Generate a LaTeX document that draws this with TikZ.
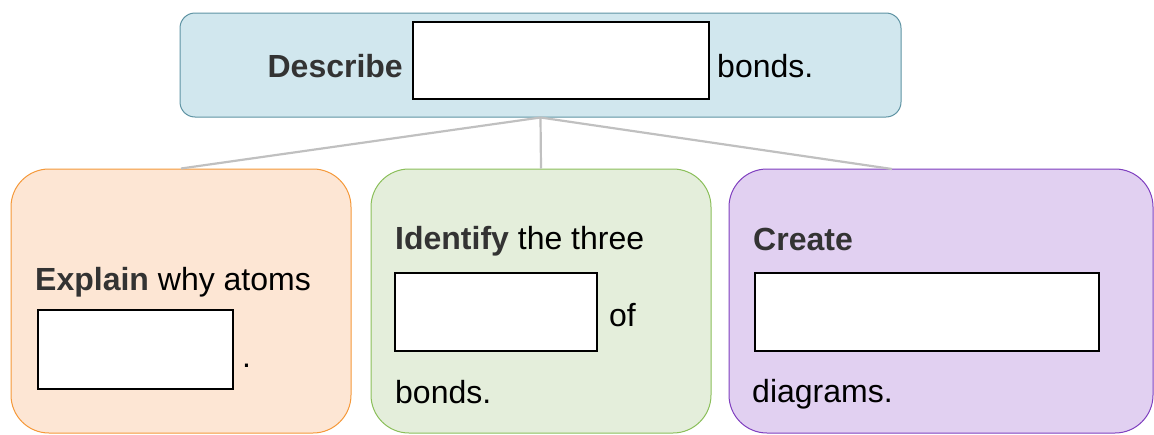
\documentclass[tikz,border=0pt]{standalone}
\usepackage{fontspec}
\setmainfont{Liberation Sans}
\definecolor{topfill}{HTML}{D1E7EE}
\definecolor{topline}{HTML}{5E93A3}
\definecolor{orfill}{HTML}{FDE6D4}
\definecolor{orline}{HTML}{F5993A}
\definecolor{grfill}{HTML}{E4EEDB}
\definecolor{grline}{HTML}{8BBF5A}
\definecolor{pufill}{HTML}{E1D0F1}
\definecolor{puline}{HTML}{7F3FBF}
\definecolor{linkgray}{HTML}{C0C0C0}
\definecolor{darktext}{HTML}{333333}
\tikzset{
  card/.style={rectangle, rounded corners=38pt, line width=1pt, inner sep=0pt},
  topcard/.style={rectangle, rounded corners=15pt, line width=1pt, inner sep=0pt, fill=topfill, draw=topline},
  blank/.style={rectangle, draw=black, fill=white, line width=2.2pt, inner sep=0pt},
  txt/.style={inner sep=0pt, anchor=base west, font=\fontsize{32}{38}\selectfont},
  link/.style={draw=linkgray, line width=2.2pt},
}
\newcommand{\bw}[1]{{\bfseries\color{darktext}#1}}
\begin{document}
\begin{tikzpicture}[x=1pt,y=-1pt]
\useasboundingbox (0,0) rectangle (1154,434);
% main cards
\node[topcard, minimum width=721pt, minimum height=104pt] (top) at (540.5,65) {};
\node[card, fill=orfill, draw=orline, minimum width=340pt, minimum height=264pt] (expl) at (181,301) {};
\node[card, fill=grfill, draw=grline, minimum width=340pt, minimum height=264pt] (ident) at (541,301) {};
\node[card, fill=pufill, draw=puline, minimum width=424pt, minimum height=264pt] (create) at (941,301) {};
% connectors
\coordinate (createin) at (892,169);
\draw[link] (top.south) -- (expl.north);
\draw[link] (top.south) -- (ident.north);
\draw[link] (top.south) -- (createin);
% blanks
\node[blank, minimum width=296pt, minimum height=77pt] (b0) at (561,60.5) {};
\node[blank, minimum width=195pt, minimum height=79pt] (b1) at (135.5,349.5) {};
\node[blank, minimum width=202pt, minimum height=78pt] (b2) at (496,312) {};
\node[blank, minimum width=344pt, minimum height=78pt] (b3) at (927,312) {};
% texts
\node[txt, anchor=base east] (t0a) at (403,77) {\bw{Describe}};
\node[txt] (t0b) at (717,77) {bonds.};
\node[txt] (t1a) at (35,290) {\bw{Explain} why atoms};
\node[txt] (t1b) at (242,367) {.};
\node[txt] (t2a) at (395,249) {\bw{Identify} the three};
\node[txt] (t2b) at (609,326) {of};
\node[txt] (t2c) at (395,403) {bonds.};
\node[txt] (t3a) at (753,250) {\bw{Create}};
\node[txt] (t3b) at (752,402) {diagrams.};
\end{tikzpicture}
\end{document}
